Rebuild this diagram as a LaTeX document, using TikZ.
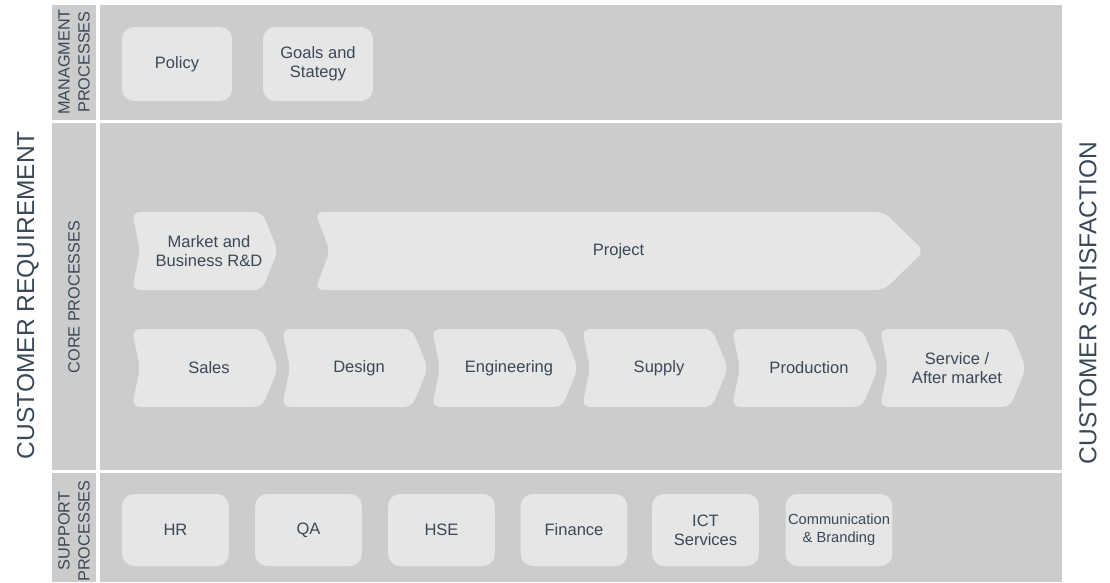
\documentclass[tikz,border=0pt]{standalone}
\usepackage{fontspec}
\setmainfont{Liberation Sans}
\usepackage{tikz}
\usetikzlibrary{positioning, calc}
\definecolor{Band}{RGB}{204,204,204}
\definecolor{Box}{RGB}{230,230,230}
\definecolor{Ink}{RGB}{58,72,88}

% arrow shaped process step: name, left, top, width, tip, notch, text
\newcommand{\stepshape}[7]{%
  \fill[Box, rounded corners=6pt] (#2,#3) -- ++(#4-#5,0) -- ++(#5,39) -- ++(-#5,39) -- ++(-#4+#5,0) -- ++(#6,-39) -- cycle;
  \node[txt] (#1) at (#2+#4/2-#5/2+#6+4,#3+39) {#7};
}

\begin{document}
\begin{tikzpicture}[x=0.75pt, y=-0.75pt]
      \tikzset{ band/.style ={fill=Band} }
      \tikzset{ txt/.style  ={text=Ink, align=center, font=\fontsize{12.4}{14.5}\selectfont} }
      \tikzset{ side/.style ={text=Ink, align=center, rotate=90, font=\fontsize{12.2}{15}\selectfont} }
      \tikzset{ outer/.style={text=Ink, rotate=90, font=\fontsize{18.4}{20}\selectfont} }
      \tikzset{ mgmt/.style ={txt, fill=Box, rounded corners=9pt, minimum width=82.5pt, minimum height=55.5pt} }
      \tikzset{ supp/.style ={txt, fill=Box, rounded corners=9pt, minimum width=80pt,   minimum height=54pt, inner xsep=1pt} }

      \useasboundingbox (0,0) rectangle (1110,582);

      % bands and their label strips
      \fill[band] ( 52,  5) rectangle (  96,120);
      \fill[band] (100,  5) rectangle (1062,120);
      \fill[band] ( 52,123) rectangle (  96,470);
      \fill[band] (100,123) rectangle (1062,470);
      \fill[band] ( 52,473) rectangle (  96,582);
      \fill[band] (100,473) rectangle (1062,582);

      \node[side ] (lmgmt) at ( 74, 62) {MANAGMENT\\PROCESSES};
      \node[side ] (lcore) at ( 74,297) {CORE PROCESSES};
      \node[side ] (lsupp) at ( 74,531) {SUPPORT\\PROCESSES};

      \node[outer] (req)   at (  28,295) {CUSTOMER REQUIREMENT};
      \node[outer] (sat)   at (1088,303) {CUSTOMER SATISFACTION};

      % management processes
      \node[mgmt] (policy) at (177, 64) {Policy};
      \node[mgmt] (goals)  at (318, 64) {Goals and\\Stategy};

      % core processes
      \stepshape{market}{132}{212}{146}{16}{8}{Market and\\Business R\&D}
      \stepshape{project}{315}{212}{609}{40}{15}{Project}

      \stepshape{sales}{132}{329}{146}{16}{8}{Sales}
      \stepshape{design}{282}{329}{146}{16}{8}{Design}
      \stepshape{eng}{432}{329}{146}{16}{8}{Engineering}
      \stepshape{supply}{582}{329}{146}{16}{8}{Supply}
      \stepshape{prod}{732}{329}{146}{16}{8}{Production}
      \stepshape{service}{880}{329}{146}{16}{8}{Service /\\After market}

      % support processes
      \node[supp] (hr)      at (175.5,530) {HR};
      \node[supp] (qa)      at (308.5,530) {QA};
      \node[supp] (hse)     at (441.5,530) {HSE};
      \node[supp] (finance) at (574.0,530) {Finance};
      \node[supp] (ict)     at (705.5,530) {ICT\\Services};
      \node[supp, font=\fontsize{11}{13.5}\selectfont] (comm) at (839.0,530) {Communication\\\& Branding};
    \end{tikzpicture}
\end{document}
